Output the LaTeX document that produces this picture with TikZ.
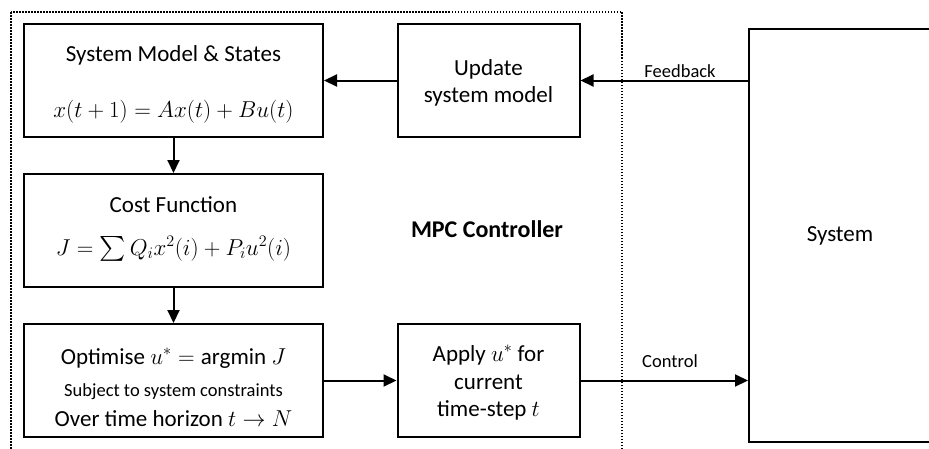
\RequirePackage{fix-cm}
\documentclass[tikz,border=0pt]{standalone}
\usepackage{amsmath}
\usepackage{fontspec}
\setmainfont{Carlito}
\usetikzlibrary{arrows.meta}

\newcommand{\bigtxt}{\fontsize{23}{28}\selectfont}
\newcommand{\smalltxt}{\fontsize{18.5}{22}\selectfont}

\tikzset{
  blk/.style={draw, line width=2pt, minimum width=299pt, minimum height=113pt, inner sep=0pt},
  narrowblk/.style={blk, minimum width=182pt},
  txt/.style={anchor=base, inner sep=0pt, font=\bigtxt},
  smalltxtnode/.style={anchor=base, inner sep=0pt, font=\smalltxt},
  flow/.style={line width=2pt, -{Triangle[length=13pt,width=12pt]}},
  region/.style={line width=2pt, dash pattern=on 1.5pt off 1.5pt},
}

\begin{document}
\begin{tikzpicture}[x=1pt,y=-1pt]
\useasboundingbox (0,0) rectangle (929,448);
\clip (0,0) rectangle (929,448);

% controller region (open at the bottom of the page)
\draw[region] (11,12) rectangle (622,480);
\node[anchor=base, inner sep=0pt, font=\fontsize{24}{28}\selectfont\bfseries] (mpc) at (487,237) {MPC Controller};

% controller blocks
\node[blk] (model) at (173.5,80.5) {};
\node[txt] (modelA) at (173.5,61.5) {System Model \& States};
\node[txt] (modelB) at (173.5,117) {$x(t+1) = Ax(t) + Bu(t)$};

\node[blk] (cost) at (173.5,230.5) {};
\node[txt] (costA) at (173.5,212) {Cost Function};
\node[txt] (costB) at (173.5,255) {$J = \sum Q_i x^2(i) + P_i u^2(i)$};

\node[blk] (opt) at (173.5,380.5) {};
\node[txt] (optA) at (173.5,364) {Optimise $u^{*} = \text{argmin}\ J$};
\node[smalltxtnode] (optB) at (173.5,396) {Subject to system constraints};
\node[txt] (optC) at (173.5,426) {Over time horizon $t \rightarrow N$};

\node[narrowblk] (update) at (488.5,80.5) {};
\node[txt] (updA) at (488.5,75) {Update};
\node[txt] (updB) at (488.5,102) {system model};

\node[narrowblk] (apply) at (488.5,380.5) {};
\node[txt] (appA) at (488.5,361) {Apply $u^{*}$ for};
\node[txt] (appB) at (488.5,389) {current};
\node[txt] (appC) at (488.5,416) {time-step $t$};

% plant
\node[draw, line width=2pt, minimum width=182pt, minimum height=413pt, inner sep=0pt, font=\bigtxt] (sys) at (840,235.5) {System};

% signal flow
\draw[flow] (update.east -| sys.west) -- (update.east);
\node[anchor=base, inner sep=0pt, font=\smalltxt] (fb) at (680,77) {Feedback};
\draw[flow] (update) -- (model);
\draw[flow] (model) -- (cost);
\draw[flow] (cost) -- (opt);
\draw[flow] (opt) -- (apply);
\draw[flow] (apply.east) -- (apply.east -| sys.west);
\node[anchor=base, inner sep=0pt, font=\smalltxt] (ctl) at (670,367) {Control};
\end{tikzpicture}
\end{document}
